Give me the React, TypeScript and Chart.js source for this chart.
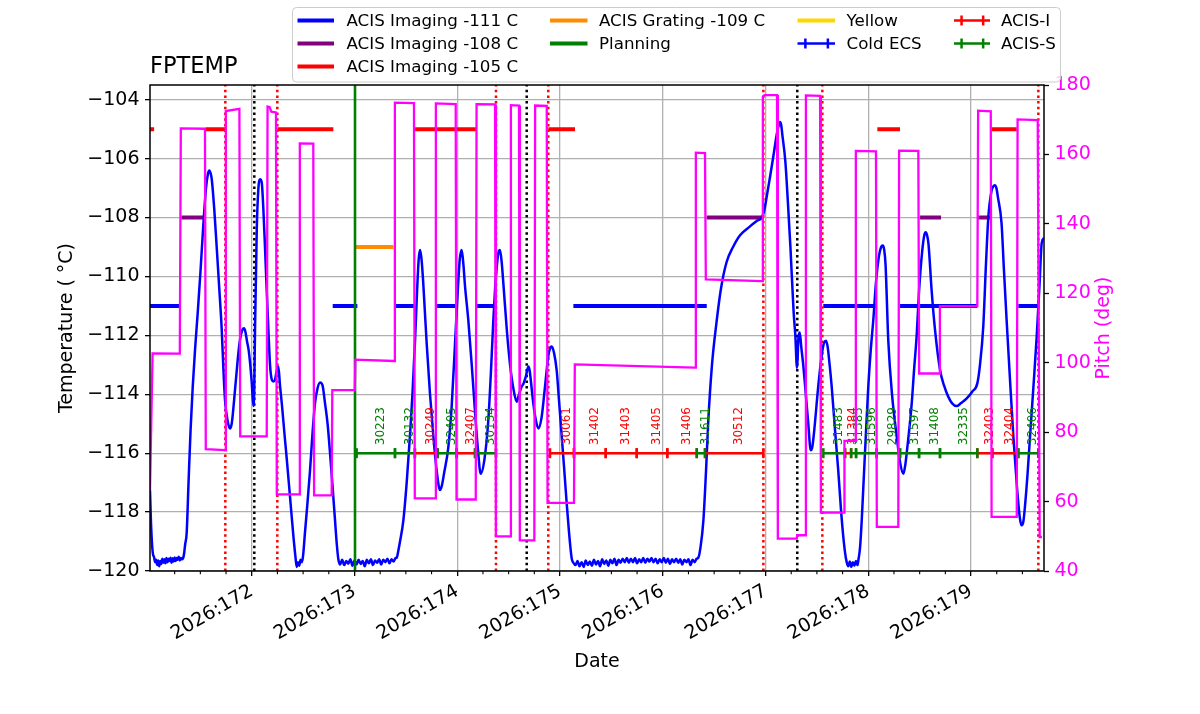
import React, { useEffect, useRef } from "react";
import { Chart, registerables } from "chart.js";

Chart.register(...registerables);

// ---------------- data ----------------
const X_MIN = 171.01;
const X_MAX = 179.71;
const TEMP_MIN = -120;
const TEMP_MAX = -103.5;
const PITCH_MIN = 40;
const PITCH_MAX = 180;

const xTickDays = [172, 173, 174, 175, 176, 177, 178, 179];
const xTickLabels = ["2026:172", "2026:173", "2026:174", "2026:175", "2026:176", "2026:177", "2026:178", "2026:179"];
const tempTicks = [-120, -118, -116, -114, -112, -110, -108, -106, -104];
const pitchTicks = [40, 60, 80, 100, 120, 140, 160, 180];

// FPTEMP (deg C) vs day of year
const tempCurve: [number, number][] = [
  [171.010, -117.26], [171.020, -118.4], [171.030, -119.1], [171.040, -119.45],
  [171.049, -119.52], [171.060, -119.70], [171.070, -119.62], [171.080, -119.80], [171.090, -119.64], [171.100, -119.84],
  [171.110, -119.66], [171.120, -119.76], [171.130, -119.58], [171.140, -119.72], [171.150, -119.60], [171.160, -119.74],
  [171.170, -119.56], [171.180, -119.70], [171.190, -119.58], [171.200, -119.66], [171.210, -119.55], [171.220, -119.72],
  [171.230, -119.57], [171.240, -119.68], [171.250, -119.54], [171.260, -119.66], [171.270, -119.56], [171.280, -119.62],
  [171.290, -119.52], [171.300, -119.64], [171.310, -119.56], [171.320, -119.60], [171.330, -119.58],
  [171.340, -119.45], [171.352, -119.1], [171.367, -118.7], [171.385, -117.0], [171.405, -115.2], [171.425, -113.8],
  [171.448, -112.5], [171.475, -111.2], [171.500, -109.9], [171.528, -108.3], [171.555, -107.0], [171.575, -106.5],
  [171.587, -106.4], [171.600, -106.5], [171.611, -106.7], [171.635, -107.7], [171.659, -109.0], [171.684, -110.4],
  [171.708, -111.8], [171.725, -113.2], [171.740, -114.2], [171.765, -114.9], [171.789, -115.16], [171.805, -115.0],
  [171.818, -114.6], [171.836, -113.9], [171.854, -113.2], [171.870, -112.6], [171.886, -112.15], [171.905, -111.85],
  [171.925, -111.76], [171.940, -111.9], [171.954, -112.2], [171.970, -112.5], [171.983, -112.9], [172.000, -113.6],
  [172.016, -114.4], [172.024, -113.9], [172.032, -111.8], [172.049, -108.4], [172.064, -107.05], [172.081, -106.7],
  [172.097, -106.8], [172.113, -107.7], [172.129, -109.0], [172.145, -110.4], [172.162, -111.8], [172.178, -113.0],
  [172.195, -113.5], [172.211, -113.57], [172.227, -113.5], [172.243, -113.2], [172.259, -113.06], [172.275, -113.7],
  [172.295, -114.4], [172.320, -115.4], [172.341, -116.2], [172.373, -117.5], [172.405, -118.8], [172.425, -119.5],
  [172.438, -119.86], [172.450, -119.7], [172.462, -119.82], [172.475, -119.62], [172.490, -119.7], [172.502, -119.4],
  [172.518, -118.7], [172.535, -118.0], [172.567, -116.6], [172.592, -115.3], [172.616, -114.3], [172.640, -113.8],
  [172.665, -113.6], [172.689, -113.7], [172.713, -114.3], [172.738, -115.0], [172.762, -116.0], [172.786, -117.1],
  [172.811, -118.3], [172.828, -119.1], [172.843, -119.6],
  [172.860, -119.78], [172.880, -119.62], [172.900, -119.80], [172.920, -119.66], [172.940, -119.75], [172.960, -119.60],
  [172.980, -119.82], [173.000, -119.64], [173.020, -119.78], [173.040, -119.62], [173.060, -119.76], [173.080, -119.66],
  [173.100, -119.84], [173.120, -119.62], [173.140, -119.74], [173.160, -119.60], [173.180, -119.80], [173.200, -119.64],
  [173.220, -119.72], [173.240, -119.60], [173.260, -119.78], [173.280, -119.62], [173.300, -119.70], [173.320, -119.58],
  [173.340, -119.74], [173.360, -119.60], [173.380, -119.68], [173.400, -119.56], [173.411, -119.55],
  [173.427, -119.3], [173.443, -119.0], [173.475, -118.3], [173.508, -117.0], [173.540, -115.4], [173.564, -114.0],
  [173.579, -112.9], [173.589, -112.2], [173.609, -110.5], [173.625, -109.4], [173.638, -109.1], [173.652, -109.4],
  [173.667, -110.1], [173.685, -111.2], [173.703, -112.3], [173.735, -114.0], [173.767, -115.4], [173.800, -116.6],
  [173.832, -117.25], [173.850, -117.1], [173.871, -116.7], [173.913, -115.8], [173.946, -114.4], [173.978, -112.3],
  [174.008, -110.3], [174.025, -109.4], [174.043, -109.1], [174.060, -109.6], [174.075, -110.3], [174.108, -111.5],
  [174.141, -113.0], [174.173, -114.6], [174.202, -115.9], [174.228, -116.7], [174.265, -116.2], [174.302, -114.9],
  [174.327, -113.3], [174.351, -111.5], [174.370, -110.3], [174.384, -109.7], [174.400, -109.2], [174.416, -109.1],
  [174.432, -109.5], [174.448, -110.2], [174.482, -111.8], [174.514, -113.0], [174.546, -113.8], [174.579, -114.25],
  [174.601, -114.0], [174.627, -113.74], [174.643, -113.65], [174.667, -113.4], [174.692, -113.06], [174.705, -113.2],
  [174.718, -113.6], [174.740, -114.3], [174.766, -114.9], [174.789, -115.16], [174.820, -114.8], [174.854, -113.74],
  [174.886, -112.7], [174.905, -112.42], [174.919, -112.38], [174.942, -112.6], [174.968, -113.2], [174.990, -114.2],
  [175.017, -115.44], [175.040, -116.5], [175.065, -117.7], [175.088, -118.7], [175.114, -119.58],
  [175.130, -119.72], [175.150, -119.80], [175.170, -119.66], [175.190, -119.84], [175.210, -119.70], [175.230, -119.86],
  [175.250, -119.64], [175.270, -119.80], [175.290, -119.68], [175.310, -119.82], [175.330, -119.62], [175.350, -119.78],
  [175.370, -119.66], [175.390, -119.84], [175.410, -119.60], [175.430, -119.76], [175.450, -119.64], [175.470, -119.82],
  [175.490, -119.62], [175.510, -119.74], [175.530, -119.58], [175.550, -119.80], [175.570, -119.62], [175.590, -119.72],
  [175.610, -119.58], [175.630, -119.70], [175.650, -119.56], [175.670, -119.72], [175.690, -119.58], [175.710, -119.70],
  [175.730, -119.56], [175.750, -119.74], [175.770, -119.60], [175.790, -119.70], [175.810, -119.56], [175.830, -119.72],
  [175.850, -119.58], [175.870, -119.68], [175.890, -119.56], [175.910, -119.70], [175.930, -119.58], [175.950, -119.74],
  [175.970, -119.60], [175.990, -119.70], [176.010, -119.56], [176.030, -119.72], [176.050, -119.58], [176.070, -119.76],
  [176.090, -119.60], [176.110, -119.70], [176.130, -119.58], [176.150, -119.72], [176.170, -119.60], [176.190, -119.78],
  [176.210, -119.62], [176.230, -119.70], [176.250, -119.60], [176.270, -119.80], [176.290, -119.62], [176.310, -119.70],
  [176.330, -119.58],
  [176.346, -119.55], [176.367, -119.2], [176.395, -118.3], [176.421, -116.6], [176.443, -114.9], [176.479, -113.0],
  [176.525, -111.5], [176.567, -110.4], [176.622, -109.5], [176.684, -109.0], [176.752, -108.6], [176.849, -108.3],
  [176.914, -108.12], [176.963, -108.0], [176.985, -107.8], [177.012, -107.28], [177.045, -106.6], [177.077, -105.9],
  [177.113, -105.1], [177.130, -104.85], [177.140, -104.76], [177.152, -104.85], [177.164, -105.2], [177.193, -106.1],
  [177.218, -107.5], [177.242, -108.98], [177.274, -111.24], [177.290, -112.0], [177.306, -113.1], [177.312, -112.8],
  [177.320, -112.1], [177.333, -111.9], [177.348, -112.4], [177.367, -113.0], [177.386, -113.74], [177.416, -115.0],
  [177.440, -115.9], [177.455, -115.8], [177.472, -115.3], [177.514, -113.7], [177.550, -112.6], [177.570, -112.25],
  [177.589, -112.18], [177.605, -112.4], [177.618, -112.8], [177.644, -113.74], [177.676, -115.2], [177.708, -116.6],
  [177.734, -117.9], [177.757, -118.84], [177.775, -119.4],
  [177.790, -119.70], [177.805, -119.84], [177.820, -119.68], [177.835, -119.86], [177.850, -119.70], [177.865, -119.82],
  [177.880, -119.66], [177.895, -119.80], [177.905, -119.6],
  [177.920, -119.2], [177.936, -118.3], [177.952, -117.14], [177.976, -115.4], [178.000, -113.74], [178.024, -112.5],
  [178.049, -111.47], [178.075, -110.2], [178.104, -109.3], [178.125, -109.0], [178.141, -108.95], [178.155, -109.1],
  [178.168, -109.6], [178.195, -112.2], [178.231, -114.0], [178.277, -115.44], [178.309, -116.3], [178.341, -116.7],
  [178.360, -116.4], [178.377, -115.9], [178.423, -114.3], [178.445, -113.2], [178.471, -112.0], [178.494, -110.5],
  [178.523, -109.2], [178.545, -108.6], [178.559, -108.5], [178.572, -108.6], [178.586, -108.9], [178.617, -110.5],
  [178.649, -111.8], [178.698, -113.17], [178.737, -113.7], [178.778, -114.08], [178.814, -114.3], [178.860, -114.4],
  [178.902, -114.3], [178.958, -114.14], [179.015, -113.9], [179.061, -113.63], [179.087, -113.0], [179.119, -111.7],
  [179.145, -109.6], [179.168, -108.0], [179.199, -107.1], [179.215, -106.95], [179.232, -106.9], [179.247, -107.0],
  [179.261, -107.3], [179.297, -108.2], [179.319, -109.7], [179.346, -111.47], [179.379, -113.5], [179.412, -115.44],
  [179.448, -117.2], [179.475, -118.2], [179.493, -118.45], [179.510, -118.3], [179.525, -117.8], [179.550, -116.7],
  [179.574, -115.44], [179.606, -113.8], [179.639, -112.04], [179.666, -110.3], [179.688, -108.86], [179.710, -108.7],
];

// Pitch (deg) vs day of year
const pitchCurve: [number, number][] = [
  [171.010, 63.3], [171.035, 102.7], [171.300, 102.6], [171.310, 167.5], [171.545, 167.4], [171.553, 75.1],
  [171.740, 74.8], [171.748, 172.5], [171.880, 173.1], [171.888, 78.8], [172.146, 78.8], [172.154, 173.8],
  [172.175, 173.6], [172.190, 172.3], [172.236, 172.1], [172.244, 62.1], [172.460, 62.1], [172.468, 163.2],
  [172.599, 163.1], [172.607, 61.8], [172.778, 61.8], [172.784, 92.1], [173.003, 92.1], [173.009, 100.9],
  [173.385, 100.5], [173.393, 174.9], [173.579, 174.8], [173.587, 60.9], [173.784, 60.9], [173.792, 174.7],
  [173.985, 174.5], [173.993, 60.6], [174.180, 60.6], [174.188, 174.5], [174.368, 174.4], [174.376, 50.0],
  [174.514, 50.0], [174.522, 174.2], [174.601, 174.1], [174.609, 48.8], [174.750, 48.8], [174.758, 174.1],
  [174.871, 174.0], [174.879, 59.6], [175.136, 59.6], [175.144, 99.5], [176.314, 98.6], [176.322, 160.5],
  [176.411, 160.4], [176.419, 124.0], [176.966, 123.5], [176.974, 176.6], [176.990, 177.1], [177.112, 177.1],
  [177.120, 49.3], [177.304, 49.3], [177.308, 50.3], [177.385, 50.3], [177.393, 177.0], [177.531, 176.9],
  [177.539, 56.8], [177.764, 56.8], [177.768, 77.5], [177.871, 77.5], [177.879, 161.0], [178.075, 160.9],
  [178.083, 52.7], [178.292, 52.7], [178.300, 161.1], [178.487, 161.0], [178.495, 96.9], [178.691, 96.9],
  [178.697, 116.3], [179.061, 116.3], [179.069, 172.6], [179.192, 172.4], [179.200, 55.6], [179.445, 55.6],
  [179.453, 170.1], [179.649, 169.9], [179.668, 49.8], [179.690, 49.8],
];

// ACIS limit spans (start day, end day)
const limitM111Spans: [number, number][] = [
  [171.010, 171.295], [172.788, 173.028], [173.394, 173.579], [173.800, 173.983], [174.190, 174.368],
  [175.130, 176.428], [177.562, 178.075], [178.309, 179.061], [179.460, 179.649],
];
const limitM108Spans: [number, number][] = [
  [171.316, 171.529], [176.428, 176.963], [178.504, 178.708], [179.061, 179.185],
];
const limitM105Spans: [number, number][] = [
  [171.010, 171.050], [171.552, 171.740], [172.249, 172.794], [173.589, 174.183], [174.886, 175.146],
  [178.088, 178.309], [179.201, 179.445],
];
const limitM109Spans: [number, number][] = [[173.015, 173.378]];
const LIMIT_M111 = -111;
const LIMIT_M108 = -108;
const LIMIT_M105 = -105;
const LIMIT_M109 = -109;

const planningDays = [173.005];
const redDottedDays = [171.743, 172.249, 174.377, 174.886, 176.979, 177.553, 179.655];
const blackDottedDays = [172.025, 174.676, 177.309];

// Observations
const OBS_LEVEL = -116;
const obsIds = ["30223", "30132", "30249", "32405", "32407", "30134", "30061", "31402", "31403", "31405", "31406", "31611",
  "30512", "31483", "31384", "31385", "31596", "29829", "31597", "31408", "32335", "32403", "32404", "32406"];
const obsInstruments = ["S", "S", "I", "S", "I", "S", "I", "I", "I", "I", "I", "S",
  "I", "S", "I", "S", "S", "S", "S", "S", "S", "I", "I", "S"];
const obsStartDays = [173.021, 173.394, 173.588, 173.810, 173.993, 174.173, 174.903, 175.136, 175.445, 175.747, 176.044, 176.331,
  176.411, 177.563, 177.774, 177.833, 177.881, 178.082, 178.309, 178.494, 178.698, 179.061, 179.207, 179.460];
const obsEndDays = [173.394, 173.588, 173.810, 173.993, 174.173, 174.377, 175.136, 175.445, 175.747, 176.044, 176.331, 176.411,
  176.979, 177.774, 177.833, 177.881, 178.082, 178.309, 178.494, 178.698, 179.061, 179.207, 179.460, 179.655];

const legendLabels = ["ACIS Imaging -111 C", "ACIS Imaging -108 C", "ACIS Imaging -105 C", "ACIS Grating -109 C",
  "Planning", "Yellow", "Cold ECS", "ACIS-I", "ACIS-S"];

// ---------------- styling ----------------
const FONT = '"DejaVu Sans", "Liberation Sans", sans-serif';
const BLUE = "#0000ff";
const PURPLE = "#800080";
const RED = "#ff0000";
const ORANGE = "#ff8c00";
const GREEN = "#008000";
const GOLD = "#ffd700";
const MAGENTA = "#ff00ff";

const spanData = (spans: [number, number][], level: number) =>
  spans.flatMap(([a, b]) => [{ x: a, y: level }, { x: b, y: level }, { x: b, y: null }]);
const vlineData = (days: number[]) =>
  days.flatMap((d) => [{ x: d, y: TEMP_MIN }, { x: d, y: TEMP_MAX }, { x: d, y: null }]);
const obsData = (instr: string) =>
  obsIds.flatMap((_, i) =>
    obsInstruments[i] === instr
      ? [{ x: obsStartDays[i], y: OBS_LEVEL }, { x: obsEndDays[i], y: OBS_LEVEL }, { x: obsEndDays[i], y: null }]
      : []
  );

const minus = (v: number) => (v < 0 ? "\u2212" + Math.abs(v) : String(v));

function drawLegend(ctx: CanvasRenderingContext2D) {
  ctx.save();
  const bx = 292.5, by = 7.5, bw = 768, bh = 74.5, r = 4;
  ctx.beginPath();
  ctx.moveTo(bx + r, by);
  ctx.lineTo(bx + bw - r, by);
  ctx.quadraticCurveTo(bx + bw, by, bx + bw, by + r);
  ctx.lineTo(bx + bw, by + bh - r);
  ctx.quadraticCurveTo(bx + bw, by + bh, bx + bw - r, by + bh);
  ctx.lineTo(bx + r, by + bh);
  ctx.quadraticCurveTo(bx, by + bh, bx, by + bh - r);
  ctx.lineTo(bx, by + r);
  ctx.quadraticCurveTo(bx, by, bx + r, by);
  ctx.closePath();
  ctx.fillStyle = "rgba(255,255,255,0.8)";
  ctx.fill();
  ctx.strokeStyle = "#cccccc";
  ctx.lineWidth = 1;
  ctx.stroke();

  const rows = [20.5, 43.5, 66.5];
  const cols = [
    { h0: 297.5, h1: 334, t: 346.5 },
    { h0: 550, h1: 587.5, t: 599 },
    { h0: 797.5, h1: 835, t: 846.5 },
    { h0: 954, h1: 990, t: 1001 },
  ];
  const entries = [
    { c: 0, r: 0, color: BLUE, bar: false },
    { c: 0, r: 1, color: PURPLE, bar: false },
    { c: 0, r: 2, color: RED, bar: false },
    { c: 1, r: 0, color: ORANGE, bar: false },
    { c: 1, r: 1, color: GREEN, bar: false },
    { c: 2, r: 0, color: GOLD, bar: false },
    { c: 2, r: 1, color: BLUE, bar: true },
    { c: 3, r: 0, color: RED, bar: true },
    { c: 3, r: 1, color: GREEN, bar: true },
  ];
  ctx.font = `16.7px ${FONT}`;
  ctx.textBaseline = "middle";
  ctx.textAlign = "left";
  entries.forEach((e, i) => {
    const col = cols[e.c];
    const y = rows[e.r];
    ctx.strokeStyle = e.color;
    ctx.lineCap = "butt";
    ctx.lineWidth = e.bar ? 2.5 : 4;
    ctx.beginPath();
    ctx.moveTo(col.h0, y);
    ctx.lineTo(col.h1, y);
    ctx.stroke();
    if (e.bar) {
      const w = col.h1 - col.h0;
      [0.21, 0.81].forEach((f) => {
        ctx.beginPath();
        ctx.moveTo(col.h0 + w * f, y - 5);
        ctx.lineTo(col.h0 + w * f, y + 5);
        ctx.stroke();
      });
    }
    ctx.fillStyle = "#000";
    ctx.fillText(legendLabels[i], col.t, y + 1);
  });
  ctx.restore();
}

const overlayPlugin = {
  id: "overlay",
  beforeDatasetDraw(chart: any, args: any) {
    if (args.index !== chart.data.datasets.length - 1) return;
    const ctx = chart.ctx as CanvasRenderingContext2D;
    const xs = chart.scales.x;
    const ys = chart.scales.y;
    const yBar = ys.getPixelForValue(OBS_LEVEL);
    ctx.save();
    ctx.font = `12px ${FONT}`;
    ctx.textAlign = "left";
    ctx.textBaseline = "middle";
    obsIds.forEach((id, i) => {
      const px = xs.getPixelForValue((obsStartDays[i] + obsEndDays[i]) / 2) + 5;
      ctx.save();
      ctx.translate(px, yBar - 8);
      ctx.rotate(-Math.PI / 2);
      ctx.fillStyle = obsInstruments[i] === "I" ? RED : GREEN;
      ctx.fillText(id, 0, 0);
      ctx.restore();
    });
    ctx.restore();
  },
  afterDatasetsDraw(chart: any) {
    const ctx = chart.ctx as CanvasRenderingContext2D;
    const ca = chart.chartArea;
    const xs = chart.scales.x;
    ctx.save();
    // minor ticks on x
    ctx.strokeStyle = "#000";
    ctx.lineWidth = 1.1;
    for (let k = 685; k <= 719; k++) {
      if (k % 4 === 0) continue;
      const px = xs.getPixelForValue(k / 4);
      if (px < ca.left || px > ca.right) continue;
      ctx.beginPath();
      ctx.moveTo(px, ca.bottom);
      ctx.lineTo(px, ca.bottom + 3.3);
      ctx.stroke();
    }
    // frame
    ctx.lineWidth = 1.5;
    ctx.strokeRect(ca.left, ca.top, ca.right - ca.left, ca.bottom - ca.top);
    ctx.restore();
  },
  afterDraw(chart: any) {
    const ctx = chart.ctx as CanvasRenderingContext2D;
    const ca = chart.chartArea;
    ctx.save();
    ctx.fillStyle = "#000";
    ctx.font = `22.5px ${FONT}`;
    ctx.textAlign = "left";
    ctx.textBaseline = "alphabetic";
    ctx.fillText("FPTEMP", ca.left, 72.5);

    ctx.font = `19px ${FONT}`;
    ctx.textAlign = "center";
    ctx.textBaseline = "middle";
    ctx.fillText("Date", (ca.left + ca.right) / 2, 662);

    const midY = (ca.top + ca.bottom) / 2;
    ctx.save();
    ctx.translate(67, midY);
    ctx.rotate(-Math.PI / 2);
    ctx.fillText("Temperature ( \u00B0C)", 0, 0);
    ctx.restore();

    ctx.save();
    ctx.translate(1104, midY);
    ctx.rotate(-Math.PI / 2);
    ctx.fillStyle = MAGENTA;
    ctx.fillText("Pitch (deg)", 0, 0);
    ctx.restore();
    ctx.restore();

    drawLegend(ctx);
  },
};

export default function App() {
  const canvasRef = useRef<HTMLCanvasElement | null>(null);

  useEffect(() => {
    const canvas = canvasRef.current;
    if (!canvas) return;

    const lineDs = (label: string, data: any[], color: string, width: number, order: number, extra: any = {}) => ({
      label,
      data,
      borderColor: color,
      backgroundColor: color,
      borderWidth: width,
      pointRadius: 0,
      fill: false,
      tension: 0,
      spanGaps: false,
      yAxisID: "y",
      order,
      ...extra,
    });

    const datasets: any[] = [
      lineDs("-111", spanData(limitM111Spans, LIMIT_M111), BLUE, 4, 60),
      lineDs("-108", spanData(limitM108Spans, LIMIT_M108), PURPLE, 4, 60),
      lineDs("-105", spanData(limitM105Spans, LIMIT_M105), RED, 4, 60),
      lineDs("-109", spanData(limitM109Spans, LIMIT_M109), ORANGE, 4, 60),
      lineDs("red dotted", vlineData(redDottedDays), RED, 2.5, 50, { borderDash: [2.5, 3.2] }),
      lineDs("black dotted", vlineData(blackDottedDays), "#000000", 2.5, 50, { borderDash: [2.5, 3.2] }),
      lineDs("FPTEMP", tempCurve.map(([x, y]) => ({ x, y })), BLUE, 2.5, 40, { cubicInterpolationMode: "monotone" }),
      lineDs("Planning", vlineData(planningDays), GREEN, 2.6, 35),
      lineDs("ACIS-S", obsData("S"), GREEN, 2.5, 30, {
        pointRadius: 5, pointStyle: "line", pointRotation: 90, pointBorderWidth: 2.5, pointBorderColor: GREEN,
      }),
      lineDs("ACIS-I", obsData("I"), RED, 2.5, 30, {
        pointRadius: 5, pointStyle: "line", pointRotation: 90, pointBorderWidth: 2.5, pointBorderColor: RED,
      }),
      lineDs("Pitch", pitchCurve.map(([x, y]) => ({ x, y })), MAGENTA, 2.3, 0, { yAxisID: "y1" }),
    ];

    const chart = new Chart(canvas, {
      type: "line",
      data: { datasets },
      options: {
        animation: false,
        responsive: false,
        devicePixelRatio: 1,
        events: [],
        layout: { padding: { left: 0, right: 0, top: 85, bottom: 0 }, autoPadding: false } as any,
        plugins: {
          legend: { display: false },
          title: { display: false },
          tooltip: { enabled: false },
        },
        scales: {
          x: {
            type: "linear",
            position: "bottom",
            min: X_MIN,
            max: X_MAX,
            afterBuildTicks: (s: any) => {
              s.ticks = xTickDays.map((v) => ({ value: v }));
            },
            afterFit: (s: any) => {
              s.height = 143;
            },
            ticks: {
              autoSkip: false,
              minRotation: 30,
              maxRotation: 30,
              padding: 4,
              color: "#000",
              font: { family: FONT, size: 19 },
              callback: (_v: any, i: number) => xTickLabels[i],
            },
            grid: { color: "#b0b0b0", lineWidth: 1.3, tickColor: "#000", tickLength: 5, tickWidth: 1.3 },
            border: { display: false },
          },
          y: {
            type: "linear",
            position: "left",
            min: TEMP_MIN,
            max: TEMP_MAX,
            afterBuildTicks: (s: any) => {
              s.ticks = tempTicks.map((v) => ({ value: v }));
            },
            afterFit: (s: any) => {
              s.width = 150;
            },
            ticks: {
              padding: 5.5,
              color: "#000",
              font: { family: FONT, size: 19 },
              callback: (v: any) => minus(Number(v)),
            },
            grid: { color: "#b0b0b0", lineWidth: 1.3, tickColor: "#000", tickLength: 5, tickWidth: 1.3 },
            border: { display: false },
          },
          y1: {
            type: "linear",
            position: "right",
            min: PITCH_MIN,
            max: PITCH_MAX,
            afterBuildTicks: (s: any) => {
              s.ticks = pitchTicks.map((v) => ({ value: v }));
            },
            afterFit: (s: any) => {
              s.width = 156;
            },
            ticks: {
              padding: 5.5,
              color: MAGENTA,
              font: { family: FONT, size: 19 },
            },
            grid: { display: true, drawOnChartArea: false, tickColor: "#000", tickLength: 5, tickWidth: 1.3 },
            border: { display: false },
          },
        },
      } as any,
      plugins: [overlayPlugin as any],
    });

    return () => chart.destroy();
  }, []);

  return (
    <div style={{ position: "absolute", left: 0, top: 0, width: 1200, height: 714, background: "#ffffff" }}>
      <canvas ref={canvasRef} width={1200} height={714} style={{ display: "block", width: 1200, height: 714 }} />
    </div>
  );
}
